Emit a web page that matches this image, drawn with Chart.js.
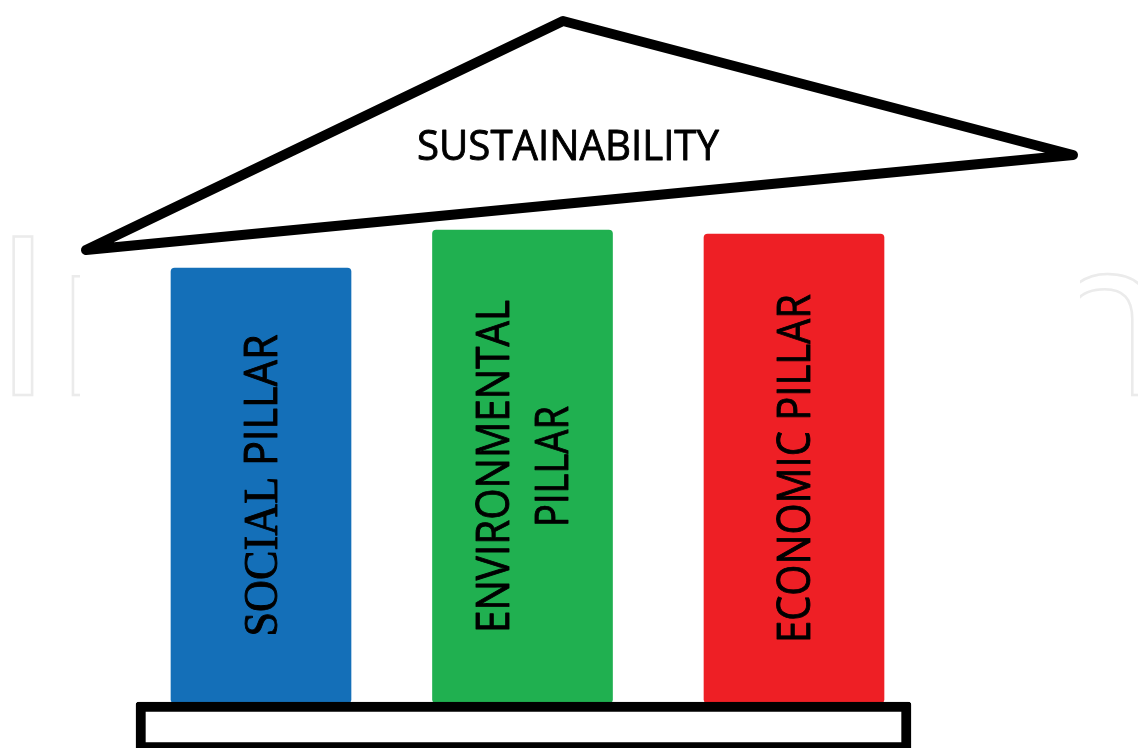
<!DOCTYPE html>
<html>
<head>
<meta charset="utf-8">
<script src="https://cdn.jsdelivr.net/npm/chart.js@4.4.1/dist/chart.umd.min.js"></script>
<style>
  html, body { margin: 0; padding: 0; background: #fff; }
  #wrap { width: 1138px; height: 748px; position: relative; }
</style>
</head>
<body>
<div id="wrap"><canvas id="pillarChart"></canvas></div>
<script>
var pillarLines = [["SOCIAL PILLAR"], ["ENVIRONMENTAL", "PILLAR"], ["ECONOMIC PILLAR"]];
var pillarCenters = [261, 522.5, 794];
var pillarTops = [480, 518, 514];
var pillarBase = 45;
var plinthCenter = 523.5;
var plinthRange = [-4, 46];
var roofX = [86, 563, 1073, 86];
var roofY = [498, 727, 593, 498];
var roofTitle = "SUSTAINABILITY";

(function () {
  var blue = "#146fb8", green = "#20b050", red = "#ee1f25";
  var sans = "'Open Sans', 'DejaVu Sans', sans-serif";
  var serif = "'Liberation Serif', 'DejaVu Serif', serif";

  // label widths as measured on the original, per line
  var lineLens = [[302], [333, 121], [349]];
  var serifWords = ["SOCIAL"];

  function fitText(ctx, words, fontFor, target, heavy) {
    var total = 0, spaceW;
    ctx.font = fontFor("");
    spaceW = ctx.measureText(" ").width;
    words.forEach(function (w, i) {
      ctx.font = fontFor(w);
      total += ctx.measureText(w).width + (i ? spaceW : 0);
    });
    var k = target / total;
    ctx.scale(k, 1);
    var x = -total / 2;
    words.forEach(function (w, i) {
      if (i) x += spaceW;
      ctx.font = fontFor(w);
      ctx.fillText(w, x, 0);
      if (heavy) ctx.strokeText(w, x, 0);
      x += ctx.measureText(w).width;
    });
  }

  var decor = {
    id: "decor",
    beforeDatasetsDraw: function (chart) {
      var ctx = chart.ctx;
      ctx.save();
      ctx.beginPath();
      ctx.rect(0, 0, 80, chart.height);
      ctx.rect(1080, 0, chart.width - 1080, chart.height);
      ctx.clip();
      ctx.strokeStyle = "#ebebeb";
      ctx.lineWidth = 2.5;
      ctx.font = "222px " + sans;
      ctx.textBaseline = "alphabetic";
      var mI = ctx.measureText("I"), mN = ctx.measureText("n");
      ctx.strokeText("In", 13 + mI.actualBoundingBoxLeft, 395);
      ctx.strokeText("n", 1050 + mN.actualBoundingBoxLeft, 395);
      ctx.restore();
    },
    afterDatasetsDraw: function (chart) {
      var ctx = chart.ctx, xs = chart.scales.x, ys = chart.scales.y;
      ctx.save();
      ctx.fillStyle = "#000";
      ctx.strokeStyle = "#000";
      ctx.lineWidth = 0.9;
      ctx.lineJoin = "round";
      ctx.textBaseline = "alphabetic";

      pillarLines.forEach(function (lines, i) {
        var cx = xs.getPixelForValue(pillarCenters[i]);
        var cy = ys.getPixelForValue((pillarTops[i] + pillarBase) / 2);
        lines.forEach(function (line, k) {
          var capMid = cx + (k - (lines.length - 1) / 2) * 59;
          ctx.save();
          ctx.translate(capMid + 16, cy);
          ctx.rotate(-Math.PI / 2);
          fitText(ctx, line.split(" "), function (w) {
            return serifWords.indexOf(w) >= 0 ? "48px " + serif : "45px " + sans;
          }, lineLens[i][k], true);
          ctx.restore();
        });
      });

      ctx.save();
      ctx.translate(xs.getPixelForValue(568), 160);
      fitText(ctx, [roofTitle], function () { return "42px " + sans; }, 302, true);
      ctx.restore();
      ctx.restore();
    }
  };

  function initChart() {
    var el = document.getElementById("pillarChart");
    if (!el || typeof Chart === "undefined") return;
    new Chart(el, {
      type: "bar",
      data: {
        datasets: [
          {
            label: "Base",
            data: [{ x: plinthCenter, y: plinthRange }],
            backgroundColor: "#fff",
            borderColor: "#000",
            borderWidth: 10,
            borderSkipped: false,
            borderRadius: 3,
            barThickness: 775,
            grouped: false,
          },
          {
            label: "Pillars",
            data: pillarCenters.map(function (c, i) { return { x: c, y: [pillarBase, pillarTops[i]] }; }),
            backgroundColor: [blue, green, red],
            borderWidth: 0,
            borderRadius: 4,
            borderSkipped: false,
            barThickness: 180,
            grouped: false,
          },
          {
            type: "line",
            label: "Roof",
            data: roofX.map(function (x, i) { return { x: x, y: roofY[i] }; }),
            borderColor: "#000",
            borderWidth: 10,
            borderJoinStyle: "round",
            borderCapStyle: "round",
            pointRadius: 0,
            tension: 0,
            fill: false,
          },
        ],
      },
      options: {
        responsive: true,
        maintainAspectRatio: false,
        animation: false,
        layout: { padding: 0 },
        plugins: { legend: { display: false }, tooltip: { enabled: false } },
        scales: {
          x: { type: "linear", min: 0, max: 1138, display: false, offset: false },
          y: { type: "linear", min: 0, max: 748, display: false },
        },
      },
      plugins: [decor],
    });
  }

  window.addEventListener("load", function () {
    initChart();
  });
})();
</script>
</body>
</html>
